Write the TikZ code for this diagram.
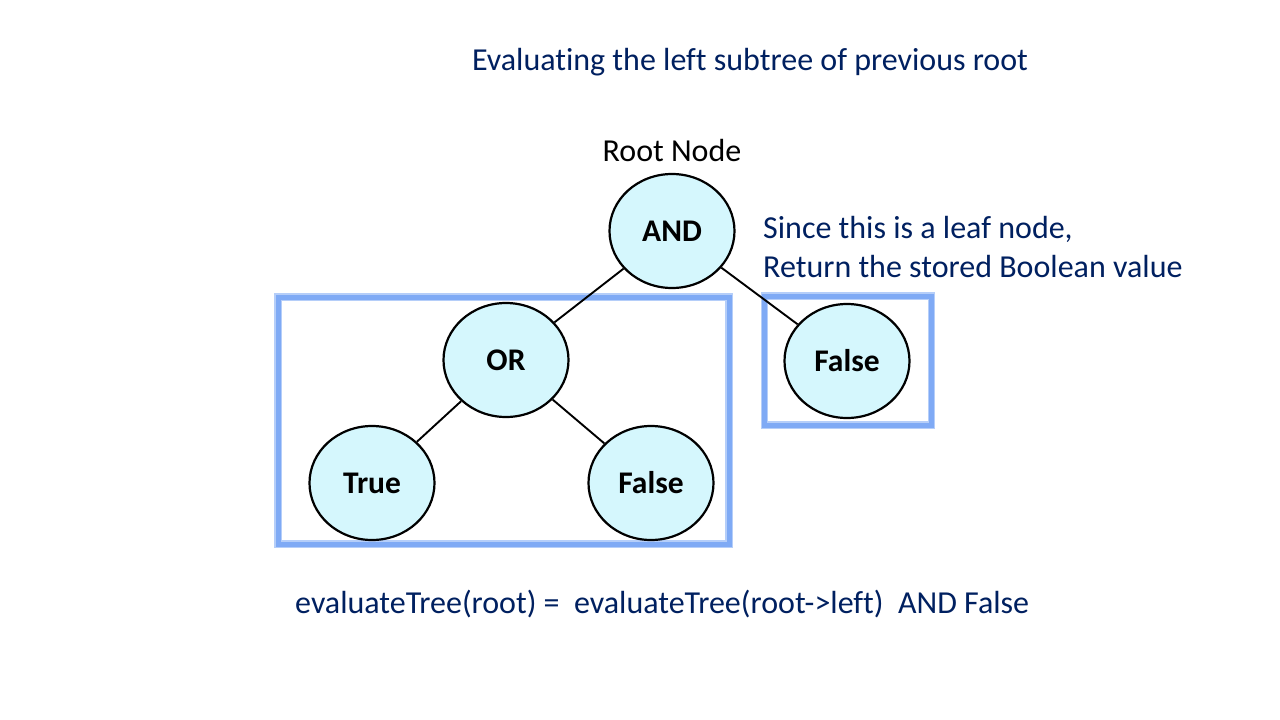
\documentclass[tikz,border=0pt]{standalone}
\usepackage{fontspec}
\setmainfont{Carlito}[Ligatures={NoCommon}]
\usetikzlibrary{shapes.geometric}
\definecolor{navy}{HTML}{002060}
\definecolor{nodefill}{HTML}{D5F7FD}
\definecolor{boxblue}{HTML}{7FAAF5}
\definecolor{boxglow}{HTML}{B5CEF9}
\tikzset{
  treenode/.style={ellipse, draw=black, line width=2.2pt, fill=nodefill, minimum width=125pt, minimum height=114pt, inner sep=0pt, font=\fontsize{31.5}{36}\selectfont\bfseries},
  edge/.style={draw=black, line width=1.9pt},
  label/.style={inner sep=0pt, font=\fontsize{32}{38}\selectfont},
  glowbox/.style={draw=boxglow, line width=7.5pt},
  selbox/.style={draw=boxblue, line width=5pt}
}
\begin{document}
\begin{tikzpicture}[x=1pt,y=-1pt]
\useasboundingbox (0,0) rectangle (1280,720);
\fill[white] (0,0) rectangle (1280,720);
% boxes
\draw[glowbox] (278,297) rectangle (729,544);
\draw[selbox] (278,297) rectangle (729,544);
\draw[glowbox] (764.5,296) rectangle (931.5,425);
\draw[selbox] (764.5,296) rectangle (931.5,425);
% nodes
\node[treenode] (and) at (672,231) {AND};
\node[treenode] (or) at (506,360) {OR};
\node[treenode] (true) at (372,483) {True};
\node[treenode] (false1) at (651,483) {False};
\node[treenode] (false2) at (847,361) {False};
% edges
\draw[edge] (and) -- (or);
\draw[edge] (and) -- (false2);
\draw[edge] (or) -- (true);
\draw[edge] (or) -- (false1);
% texts
\node[label, text=navy] (title) at (750,62) {Evaluating the left subtree of previous root};
\node[label, text=black] (rootlbl) at (672,151) {Root Node};
\node[label, text=navy, anchor=west] (leaf1) at (763,229) {Since this is a leaf node,};
\node[label, text=navy, anchor=west] (leaf2) at (763,267) {Return the stored Boolean value};
\node[label, text=navy, anchor=west] (formula) at (295,604) {evaluateTree(root) =\ \ evaluateTree(root->left)\ \ AND False};
\end{tikzpicture}
\end{document}
